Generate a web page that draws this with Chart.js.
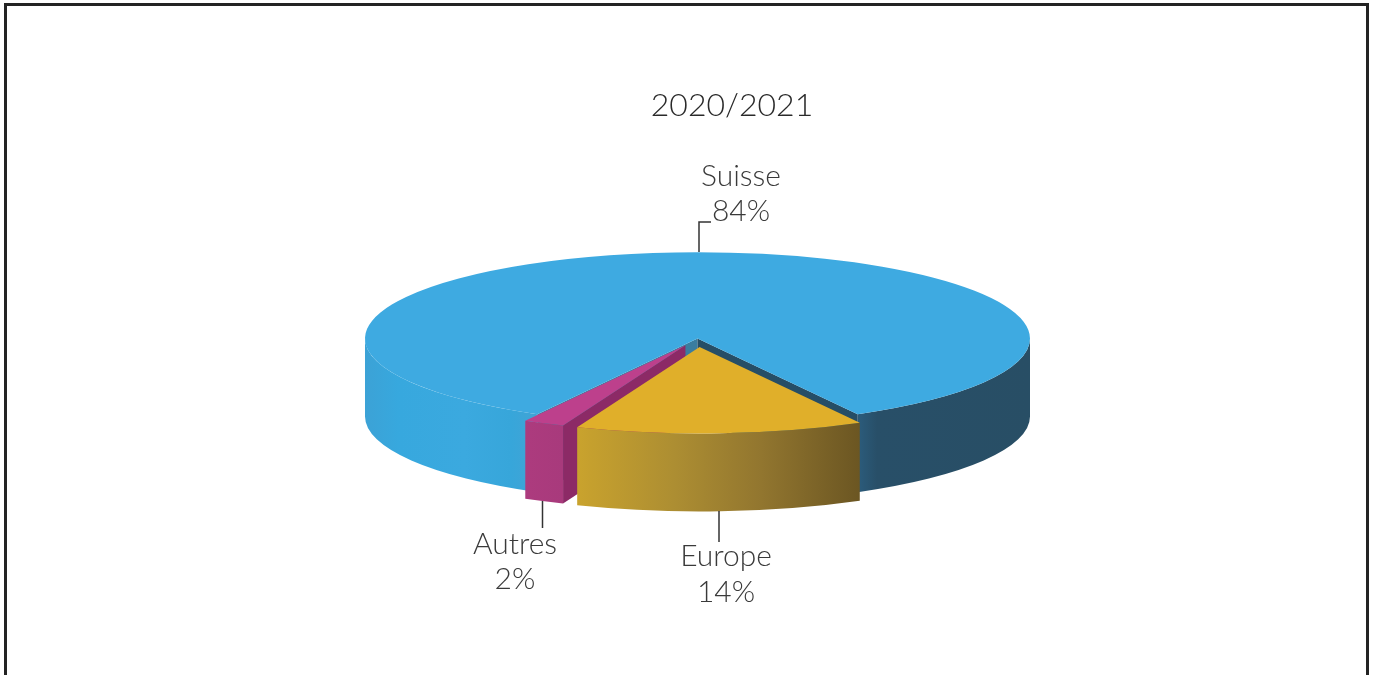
<!DOCTYPE html>
<html>
<head>
<meta charset="utf-8">
<title>2020/2021</title>
<script src="https://cdn.jsdelivr.net/npm/chart.js@4"></script>
<style>
    html, body { margin: 0; padding: 0; background: #fff; overflow: hidden; }
    #frame { position: absolute; left: 4px; top: 3px; width: 1359px; height: 720px; border: 3px solid #232323; }
    #wrap { position: absolute; left: 0; top: 0; width: 1374px; height: 675px; }
</style>
</head>
<body>
<div id="frame"></div>
<div id="wrap"><canvas id="pie"></canvas></div>
<script>
const categories = ['Suisse', 'Europe', 'Autres'];
const shares = [84, 14, 2];
const chartTitle = '2020/2021';

const topColors = ['#3eaae1', '#e0af2a', '#bd408c'];
// How far each slice is pulled out, as a share of the radius
const explode = [0, 0.1, 0.085];

// Where the flattened disc sits on the page
const disc = { cx: 697.5, cy: 338.5, rx: 332.5, ry: 86.3, depth: 78 };

// Label text position and leader line for each slice
const labelLayout = [
    { x: 741, y: 176, gap: 35, line: [[699, 252], [699, 222], [711, 222]] },
    { x: 726, y: 556, gap: 36, line: [[719, 511], [719, 542]] },
    { x: 515, y: 544, gap: 35, line: [[542.5, 501], [542.5, 528]] }
];

const FONT = 'Lato, "Open Sans", sans-serif';

function midAngle(el) {
    return (el.startAngle + el.endAngle) / 2;
}

function sliceCenter(el, i) {
    const mid = midAngle(el);
    return {
        cx: disc.cx + Math.cos(mid) * explode[i] * disc.rx,
        cy: disc.cy + Math.sin(mid) * explode[i] * disc.ry
    };
}

function corner(c, angle) {
    return { x: c.cx + Math.cos(angle) * disc.rx, y: c.cy + Math.sin(angle) * disc.ry };
}

function drawWall(ctx, c, el, fill) {
    // Only the front half of the rim (0 to PI) can be seen
    for (let k = 0; k < 2; k++) {
        const lo = Math.max(el.startAngle, 2 * Math.PI * k);
        const hi = Math.min(el.endAngle, Math.PI + 2 * Math.PI * k);
        if (hi <= lo) continue;
        ctx.beginPath();
        ctx.ellipse(c.cx, c.cy, disc.rx, disc.ry, 0, lo, hi);
        ctx.ellipse(c.cx, c.cy + disc.depth, disc.rx, disc.ry, 0, hi, lo, true);
        ctx.closePath();
        ctx.fillStyle = fill;
        ctx.fill();
    }
}

function drawCutFace(ctx, c, angle, fill) {
    const p = corner(c, angle);
    ctx.beginPath();
    ctx.moveTo(c.cx, c.cy);
    ctx.lineTo(p.x, p.y);
    ctx.lineTo(p.x, p.y + disc.depth);
    ctx.lineTo(c.cx, c.cy + disc.depth);
    ctx.closePath();
    ctx.fillStyle = fill;
    ctx.fill();
}

function wallGradient(ctx, x0, x1, stops) {
    const g = ctx.createLinearGradient(x0, 0, x1, 0);
    stops.forEach(s => g.addColorStop(s[0], s[1]));
    return g;
}

// Pie controller that draws the walls first, then lays its arcs flat on the disc
class ExplodedPieController extends Chart.PieController {
    draw() {
        const ctx = this.chart.ctx;
        const arcs = this.getMeta().data;
        const [suisse, europe, autres] = arcs;
        const cS = sliceCenter(suisse, 0);
        const cE = sliceCenter(europe, 1);
        const cA = sliceCenter(autres, 2);

        const blueWall = wallGradient(ctx, disc.cx - disc.rx, disc.cx + disc.rx, [
            [0, '#3ca2d6'], [0.05, '#37a8de'], [0.15, '#3ba9df'], [0.22, '#37a6da'], [0.25, '#3fa4d6'],
            [0.745, '#2b5a79'], [0.77, '#284f68'], [1, '#284e65']
        ]);
        drawWall(ctx, cS, suisse, blueWall);
        drawCutFace(ctx, cS, suisse.startAngle, '#3a7da0');
        drawCutFace(ctx, cS, suisse.endAngle, '#264e66');
        drawCutFace(ctx, cA, autres.startAngle, '#8c2a66');
        drawWall(ctx, cA, autres, wallGradient(ctx, 523, 563, [[0, '#ad3b7e'], [1, '#a83a7c']]));
        drawWall(ctx, cE, europe, wallGradient(ctx, 571, 863, [
            [0, '#cba42d'], [0.35, '#ad8e32'], [0.65, '#92762f'], [1, '#6a5522']
        ]));

        arcs.forEach((arc, i) => {
            const c = sliceCenter(arc, i);
            ctx.save();
            ctx.translate(c.cx, c.cy);
            ctx.scale(disc.rx / arc.outerRadius, disc.ry / arc.outerRadius);
            ctx.translate(-arc.x, -arc.y);
            arc.draw(ctx);
            ctx.restore();
        });
    }
}
ExplodedPieController.id = 'explodedPie';
ExplodedPieController.defaults = Chart.PieController.defaults;
ExplodedPieController.overrides = Chart.PieController.overrides;
Chart.register(ExplodedPieController);

const sliceLabels = {
    id: 'sliceLabels',
    afterDraw(chart) {
        const ctx = chart.ctx;
        ctx.save();
        ctx.strokeStyle = '#333';
        ctx.lineWidth = 1.5;
        ctx.fillStyle = '#3a3a3a';
        ctx.font = '300 30px ' + FONT;
        ctx.textAlign = 'center';
        ctx.textBaseline = 'middle';
        categories.forEach((name, i) => {
            const l = labelLayout[i];
            ctx.beginPath();
            l.line.forEach((p, j) => (j ? ctx.lineTo(p[0], p[1]) : ctx.moveTo(p[0], p[1])));
            ctx.stroke();
            ctx.fillText(name, l.x, l.y);
            ctx.fillText(shares[i] + '%', l.x, l.y + l.gap);
        });
        ctx.restore();
    }
};

new Chart(document.getElementById('pie'), {
    type: 'explodedPie',
    data: {
        labels: categories,
        datasets: [{
            data: shares,
            backgroundColor: topColors,
            borderWidth: 0,
            clip: false
        }]
    },
    options: {
        responsive: true,
        maintainAspectRatio: false,
        animation: false,
        rotation: 208.8,
        layout: { padding: { left: 90 } },
        events: [],
        plugins: {
            legend: { display: false },
            tooltip: { enabled: false },
            title: {
                display: true,
                text: chartTitle,
                color: '#2a2a2a',
                font: { family: FONT, size: 32, weight: '300' },
                padding: { top: 86, bottom: 10 }
            }
        }
    },
    plugins: [sliceLabels]
});
</script>
</body>
</html>
